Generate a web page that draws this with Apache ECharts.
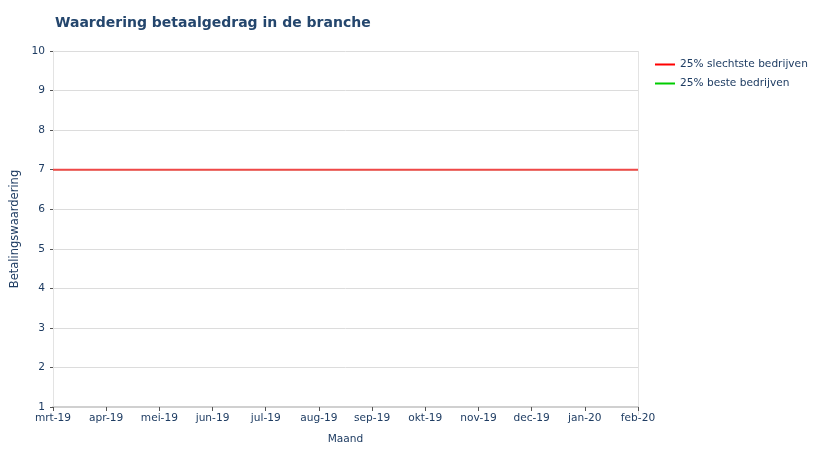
<!DOCTYPE html>
<html>
<head>
<meta charset="utf-8">
<script src="https://cdn.jsdelivr.net/npm/echarts@6/dist/echarts.min.js"></script>
<style>
  html, body { margin: 0; padding: 0; background: #fff; overflow: hidden; }
  #chart { width: 824px; height: 450px; }
</style>
</head>
<body>
<div id="chart"></div>
<script>
// maanden op de x-as
const maanden = ['mrt-19', 'apr-19', 'mei-19', 'jun-19', 'jul-19', 'aug-19',
  'sep-19', 'okt-19', 'nov-19', 'dec-19', 'jan-20', 'feb-20'];
// waarden per reeks
const slechtste = [7, 7, 7, 7, 7, 7, 7, 7, 7, 7, 7, 7];
const beste = [7, 7, 7, 7, 7, 7, 7, 7, 7, 7, 7, 7];

const tekstKleur = '#1f3d63';
const font = 'DejaVu Sans';

const chart = echarts.init(document.getElementById('chart'));
chart.setOption({
  animation: false,
  title: {
    text: 'Waardering betaalgedrag in de branche',
    left: 50, top: 11,
    textStyle: { fontFamily: font, fontSize: 14, fontWeight: 'bold', color: '#24466d' }
  },
  legend: {
    orient: 'vertical',
    left: 650, top: 54,
    itemWidth: 20, itemHeight: 2, itemGap: 8,
    icon: 'rect',
    data: ['25% slechtste bedrijven', '25% beste bedrijven'],
    textStyle: { fontFamily: font, fontSize: 10.6, color: tekstKleur }
  },
  grid: { left: 53, right: 186, top: 51, bottom: 35, containLabel: false },
  xAxis: {
    type: 'category',
    data: maanden,
    boundaryGap: false,
    name: 'Maand',
    nameLocation: 'middle',
    nameGap: 27,
    nameTextStyle: { fontFamily: font, fontSize: 10.6, color: tekstKleur },
    axisLine: { lineStyle: { color: '#d0d0d0', width: 2 } },
    axisTick: { show: true, length: 4, lineStyle: { color: '#555' } },
    axisLabel: { fontFamily: font, fontSize: 10.6, color: tekstKleur, margin: 6, interval: 0 },
    splitLine: { show: false }
  },
  yAxis: {
    type: 'value',
    min: 1, max: 10, interval: 1,
    name: 'Betalingswaardering',
    nameLocation: 'middle',
    nameGap: 30,
    nameTextStyle: { fontFamily: font, fontSize: 11.5, color: tekstKleur },
    axisLine: { show: true, lineStyle: { color: '#e3e3e3' } },
    axisTick: { show: true, length: 3, lineStyle: { color: '#555' } },
    axisLabel: { fontFamily: font, fontSize: 10.6, color: tekstKleur, margin: 8 },
    splitLine: { show: true, lineStyle: { color: '#dcdcdc' } }
  },
  series: [
    {
      name: '25% slechtste bedrijven',
      type: 'line',
      data: slechtste,
      z: 3,
      symbol: 'none',
      color: '#ff0000',
      lineStyle: { color: '#f04848', width: 2 }
    },
    {
      name: '25% beste bedrijven',
      type: 'line',
      data: beste,
      z: 2,
      symbol: 'none',
      color: '#00cc00',
      lineStyle: { color: '#33cc33', width: 1 }
    }
  ],
  graphic: [{
    type: 'line',
    shape: { x1: 638.5, y1: 51, x2: 638.5, y2: 415 },
    style: { stroke: '#e3e3e3', lineWidth: 1 }
  }]
});
</script>
</body>
</html>
